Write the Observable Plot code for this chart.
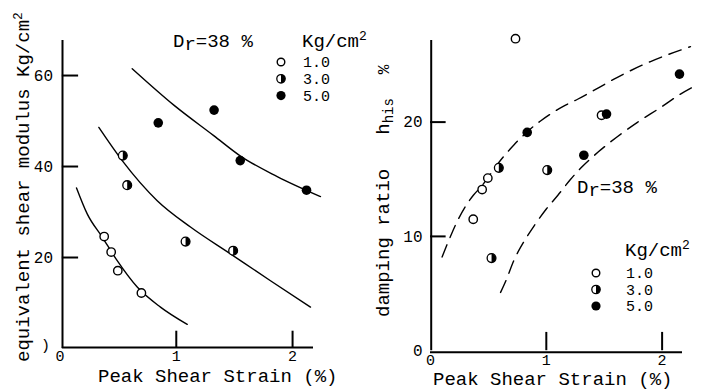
<!DOCTYPE html>
<html>
<head>
<meta charset="utf-8">
<script src="https://cdn.jsdelivr.net/npm/d3@7"></script>
<script src="https://cdn.jsdelivr.net/npm/@observablehq/plot@0.6"></script>
<style>
  html, body { margin: 0; padding: 0; background: #fff; }
  #wrap { position: relative; width: 706px; height: 391px; overflow: hidden; background: #fff; }
  #wrap svg { position: absolute; top: 0; }
</style>
</head>
<body>
<div id="wrap"></div>
<script>
// ---------- Left panel: equivalent shear modulus ----------
const gOpenX = [0.38, 0.44, 0.497, 0.70];
const gOpenY = [24.6, 21.2, 17.1, 12.2];
const gHalfX = [0.54, 0.578, 1.08, 1.489];
const gHalfY = [42.4, 35.9, 23.5, 21.5];
const gFullX = [0.845, 1.325, 1.55, 2.12];
const gFullY = [49.6, 52.4, 41.3, 34.8];

const gCurve1X = [0.142, 0.234, 0.363, 0.492, 0.664, 0.864, 1.094];
const gCurve1Y = [35.3, 29.6, 24.5, 19.3, 13.5, 9.1, 5.3];
const gCurve2X = [0.334, 0.535, 0.836, 1.122, 1.466, 1.81, 2.154];
const gCurve2Y = [48.6, 41.3, 32.5, 26.7, 20.8, 14.9, 9.1];
const gCurve3X = [0.621, 0.979, 1.322, 1.552, 1.868, 2.24];
const gCurve3Y = [61.5, 53.5, 46.8, 42.3, 37.8, 33.4];

const xTicksL = [0, 1, 2];
const yTicksL = [20, 40, 60];

// ---------- Right panel: damping ratio ----------
const hOpenX = [0.369, 0.446, 0.495, 0.734, 1.477];
const hOpenY = [11.5, 14.1, 15.1, 27.3, 20.6];
const hHalfX = [0.527, 0.59, 1.008];
const hHalfY = [8.1, 16.0, 15.8];
const hFullX = [0.835, 1.324, 1.52, 2.15];
const hFullY = [19.1, 17.1, 20.7, 24.2];

const hUpperX = [0.10, 0.16, 0.23, 0.30, 0.37, 0.45, 0.50, 0.60, 0.72, 0.84, 0.95, 1.05, 1.15, 1.27, 1.45, 1.61, 1.90, 2.245];
const hUpperY = [8.2, 9.7, 11.3, 12.6, 13.6, 14.5, 15.2, 16.6, 18.0, 19.2, 20.1, 20.8, 21.4, 22.0, 23.0, 23.9, 25.3, 26.6];
const hLowerX = [0.605, 0.65, 0.72, 0.81, 0.90, 1.00, 1.10, 1.21, 1.30, 1.45, 1.61, 1.79, 1.99, 2.15, 2.29];
const hLowerY = [5.1, 6.1, 7.9, 9.6, 11.0, 12.4, 13.6, 15.0, 16.0, 17.4, 18.7, 20.0, 21.3, 22.4, 23.2];

const xTicksR = [0, 1, 2];
const yTicksR = [0, 10, 20];

const legendLabels = ["1.0", "3.0", "5.0"];

const FONT = "'Liberation Mono', 'DejaVu Sans Mono', monospace";

const zip = (xs, ys) => xs.map((x, i) => ({x, y: ys[i]}));

const halfRight = {
  draw(ctx, size) {
    const r = Math.sqrt(size / Math.PI);
    ctx.moveTo(0, -r);
    ctx.arc(0, 0, r, -Math.PI / 2, Math.PI / 2);
    ctx.closePath();
  }
};

function pointMarks(openPts, halfPts, fullPts) {
  return [
    Plot.dot(openPts, {x: "x", y: "y", r: 4.2, fill: "white", stroke: "black", strokeWidth: 1.4}),
    Plot.dot(halfPts, {x: "x", y: "y", r: 4.4, fill: "white", stroke: "black", strokeWidth: 1.3}),
    Plot.dot(halfPts, {x: "x", y: "y", r: 4.4, symbol: halfRight, fill: "black", stroke: "none"}),
    Plot.dot(fullPts, {x: "x", y: "y", r: 4.8, fill: "black", stroke: "none"})
  ];
}

// Left plot
const xMaxL = 2.18, yMaxL = 67.7;
const left = Plot.plot({
  width: 353, height: 391,
  marginLeft: 59.5, marginRight: 40, marginTop: 40, marginBottom: 43,
  x: {domain: [0, xMaxL], axis: null},
  y: {domain: [0, yMaxL], axis: null},
  style: {fontFamily: FONT, fontSize: "16px", color: "black", background: "white", overflow: "visible"},
  marks: [
    Plot.ruleX([0], {y1: 0, y2: yMaxL, dx: 2.5, strokeWidth: 2}),
    Plot.ruleY([0], {x1: 0.02, x2: xMaxL, dy: -1, strokeWidth: 2}),
    Plot.ruleY(yTicksL, {x1: 0.02, x2: 0.16, strokeWidth: 2}),
    Plot.ruleX(xTicksL.filter(d => d > 0), {y1: 0, y2: 3.8, strokeWidth: 2}),
    Plot.text(yTicksL, {x: 0, y: d => d, text: d => String(d), textAnchor: "end", dx: -7, fontSize: 16}),
    Plot.text([0], {x: 0, y: 0, text: () => ")", textAnchor: "end", dx: -10, dy: -3, fontSize: 15}),
    Plot.text(xTicksL, {x: d => d, y: 0, text: d => String(d), dy: 8, fontSize: 15}),
    Plot.line(zip(gCurve1X, gCurve1Y), {x: "x", y: "y", curve: "monotone-x", strokeWidth: 1.4}),
    Plot.line(zip(gCurve2X, gCurve2Y), {x: "x", y: "y", curve: "monotone-x", strokeWidth: 1.4}),
    Plot.line(zip(gCurve3X, gCurve3Y), {x: "x", y: "y", curve: "monotone-x", strokeWidth: 1.4}),
    ...pointMarks(zip(gOpenX, gOpenY), zip(gHalfX, gHalfY), zip(gFullX, gFullY))
  ]
});
left.style.left = "0px";

// Right plot
const xMaxR = 2.176, yMaxR = 27.14;
const right = Plot.plot({
  width: 353, height: 391,
  marginLeft: 77, marginRight: 24, marginTop: 40, marginBottom: 40.8,
  x: {domain: [0, xMaxR], axis: null},
  y: {domain: [0, yMaxR], axis: null},
  style: {fontFamily: FONT, fontSize: "16px", color: "black", background: "transparent", overflow: "visible"},
  marks: [
    Plot.ruleX([0], {y1: 0, y2: yMaxR, dx: 0.7, strokeWidth: 2}),
    Plot.ruleY([0], {x1: 0, x2: xMaxR, dy: 1.5, strokeWidth: 2}),
    Plot.ruleY(yTicksR.filter(d => d > 0), {x1: 0, x2: 0.135, strokeWidth: 2}),
    Plot.ruleX(xTicksR.filter(d => d > 0), {y1: 0, y2: 1.6, strokeWidth: 2}),
    Plot.text(yTicksR, {x: 0, y: d => d, text: d => String(d), textAnchor: "end", dx: -8, fontSize: 16}),
    Plot.text(xTicksR, {x: d => d, y: 0, text: d => String(d), dy: 9, fontSize: 15}),
    Plot.line(zip(hUpperX, hUpperY), {x: "x", y: "y", curve: "monotone-x", strokeWidth: 1.4, strokeDasharray: "13,8"}),
    Plot.line(zip(hLowerX, hLowerY), {x: "x", y: "y", curve: "monotone-x", strokeWidth: 1.4, strokeDasharray: "13,8"}),
    ...pointMarks(zip(hOpenX, hOpenY), zip(hHalfX, hHalfY), zip(hFullX, hFullY))
  ]
});
right.style.left = "353px";

const wrap = document.getElementById("wrap");
wrap.appendChild(left);
wrap.appendChild(right);

// ---------- Text annotations, titles and legends ----------
function addText(svg, x, y, parts, opts = {}) {
  const t = d3.select(svg).append("text")
    .attr("x", x).attr("y", y)
    .attr("text-anchor", "start")
    .attr("font-family", FONT)
    .attr("font-size", opts.size || 19)
    .attr("fill", "black");
  if (opts.rotate) t.attr("transform", `rotate(-90 ${x} ${y})`);
  parts.forEach(p => {
    const s = t.append("tspan").text(p.text);
    if (p.size) s.attr("font-size", p.size);
    if (p.dy) s.attr("dy", p.dy);
    if (p.dx) s.attr("dx", p.dx);
  });
  return t;
}

function addLegend(svg, mx, my, tx, ty, step) {
  const g = d3.select(svg).append("g");
  const sym = d3.symbol().type(halfRight).size(Math.PI * 4.2 * 4.2)();
  legendLabels.forEach((lab, i) => {
    const cy = my + i * step;
    if (i === 0) {
      g.append("circle").attr("cx", mx).attr("cy", cy).attr("r", 3.8).attr("fill", "white").attr("stroke", "black").attr("stroke-width", 1.4);
    } else if (i === 1) {
      g.append("circle").attr("cx", mx).attr("cy", cy).attr("r", 4.2).attr("fill", "white").attr("stroke", "black").attr("stroke-width", 1.3);
      g.append("path").attr("d", sym).attr("transform", `translate(${mx},${cy})`).attr("fill", "black");
    } else {
      g.append("circle").attr("cx", mx).attr("cy", cy).attr("r", 4.6).attr("fill", "black");
    }
    addText(svg, tx, ty + i * step, [{text: lab}], {size: 15});
  });
}

// Left panel texts
addText(left, 29, 362, [{text: "equivalent shear modulus Kg/cm"}, {text: "2", size: 13, dy: -7}], {rotate: true});
addText(left, 98, 382, [{text: "Peak Shear Strain (%)"}]);
addText(left, 173, 47, [{text: "D"}, {text: "r", dy: 3}, {text: "=38 %", dy: -3}]);
addText(left, 302, 47, [{text: "Kg/cm"}, {text: "2", size: 13, dy: -7}]);
addLegend(left, 281, 62, 303, 67, 16.8);

// Right panel texts (local x = absolute - 353)
addText(right, 389 - 353, 317, [
  {text: "damping ratio"},
  {text: "h", dx: 34},
  {text: "his", size: 14, dy: 4},
  {text: "%", dx: 24, dy: -4, size: 16}
], {rotate: true});
addText(right, 433 - 353, 385, [{text: "Peak Shear Strain (%)"}]);
addText(right, 577 - 353, 193, [{text: "D"}, {text: "r", dy: 3}, {text: "=38 %", dy: -3}]);
addText(right, 625 - 353, 256, [{text: "Kg/cm"}, {text: "2", size: 13, dy: -7}]);
addLegend(right, 596 - 353, 273, 626 - 353, 278, 16.5);
</script>
</body>
</html>
